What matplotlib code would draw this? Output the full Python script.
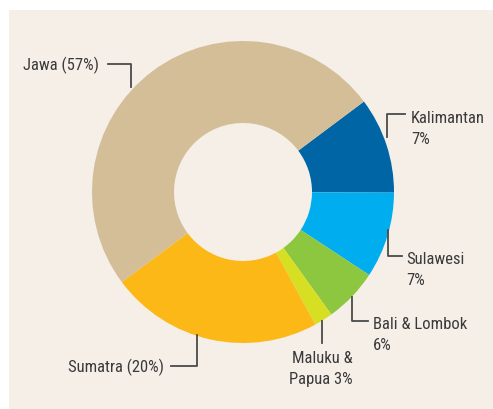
import matplotlib
matplotlib.use("Agg")
import matplotlib.pyplot as plt
from matplotlib import font_manager

#
# Data (wedge sizes read from the drawn angles, labels as printed)
#
regions = ["Kalimantan", "Sulawesi", "Bali & Lombok", "Maluku & Papua", "Sumatra", "Jawa"]
shares = [10.3, 9.2, 5.8, 2.0, 22.8, 50.0]
labels = ["Kalimantan\n7%", "Sulawesi\n7%", "Bali & Lombok\n6%", "Maluku &\nPapua 3%",
          "Sumatra (20%)", "Jawa (57%)"]
colors = ["#0065a4", "#00aeef", "#8dc63f", "#d7df23", "#fbb817", "#d3be98"]

bg = "#f5efe8"
txt_color = "#3a3a3a"
line_color = "#4a4a4a"

# pick the narrowest family that is actually installed
installed = {f.name for f in font_manager.fontManager.ttflist}
fam = "DejaVu Sans"
fs = 11
for name, size in [("Liberation Sans Narrow", 12.5), ("DejaVu Sans Condensed", 11.5),
                   ("Roboto Condensed", 12), ("Lato", 11.5)]:
    if name in installed:
        fam, fs = name, size
        break
plt.rcParams['font.family'] = [fam, 'DejaVu Sans']

W, H = 493, 410
fig = plt.figure(figsize=(W / 100, H / 100), dpi=100)
fig.patch.set_facecolor("white")

# Beige panel
ax_bg = fig.add_axes([9 / W, 0, 1 - 9 / W, 1 - 11 / H])
ax_bg.set_facecolor(bg)
ax_bg.set_xticks([])
ax_bg.set_yticks([])
for s in ax_bg.spines.values():
    s.set_visible(False)

# Donut
cx, cy, r = 243, 193, 151
ax = fig.add_axes([(cx - r) / W, (H - cy - r) / H, 2 * r / W, 2 * r / H])
ax.pie(shares, colors=colors, startangle=36.8, counterclock=False,
       radius=1.0, wedgeprops=dict(width=1 - 69 / 151, linewidth=0))
ax.set_xlim(-1, 1)
ax.set_ylim(-1, 1)
ax.set_facecolor("none")

# Overlay in pixel coords for labels / leader lines
ov = fig.add_axes([0, 0, 1, 1])
ov.set_xlim(0, W)
ov.set_ylim(H, 0)
ov.axis("off")
ov.patch.set_alpha(0)

lw = 1.3
ls = 1.5

# Jawa
ov.plot([108, 131, 131], [65, 65, 88], color=line_color, lw=lw)
ov.text(99, 65, labels[5], ha="right", va="center", fontsize=fs, color=txt_color)
# Kalimantan
ov.plot([386.7, 386.7, 405], [138, 115, 115], color=line_color, lw=lw)
ov.text(411, 129, labels[0], ha="left", va="center", fontsize=fs, color=txt_color,
        linespacing=ls)
# Sulawesi
ov.plot([388.3, 388.3, 402], [231, 257, 257], color=line_color, lw=lw)
ov.text(406, 270, labels[1], ha="left", va="center", fontsize=fs, color=txt_color,
        linespacing=ls)
# Bali & Lombok
ov.plot([352.3, 352.3, 368], [298, 322, 322], color=line_color, lw=lw)
ov.text(373, 335, labels[2], ha="left", va="center", fontsize=fs, color=txt_color,
        linespacing=ls)
# Maluku & Papua
ov.plot([321.7, 321.7], [322, 343.5], color=line_color, lw=lw)
ov.text(353, 369, labels[3], ha="right", va="center", fontsize=fs, color=txt_color,
        linespacing=ls, multialignment="right")
# Sumatra
ov.plot([171, 197.3, 197.3], [367.3, 367.3, 336], color=line_color, lw=lw)
ov.text(164, 367, labels[4], ha="right", va="center", fontsize=fs, color=txt_color)

fig.savefig("out.png", dpi=100, facecolor="white")
